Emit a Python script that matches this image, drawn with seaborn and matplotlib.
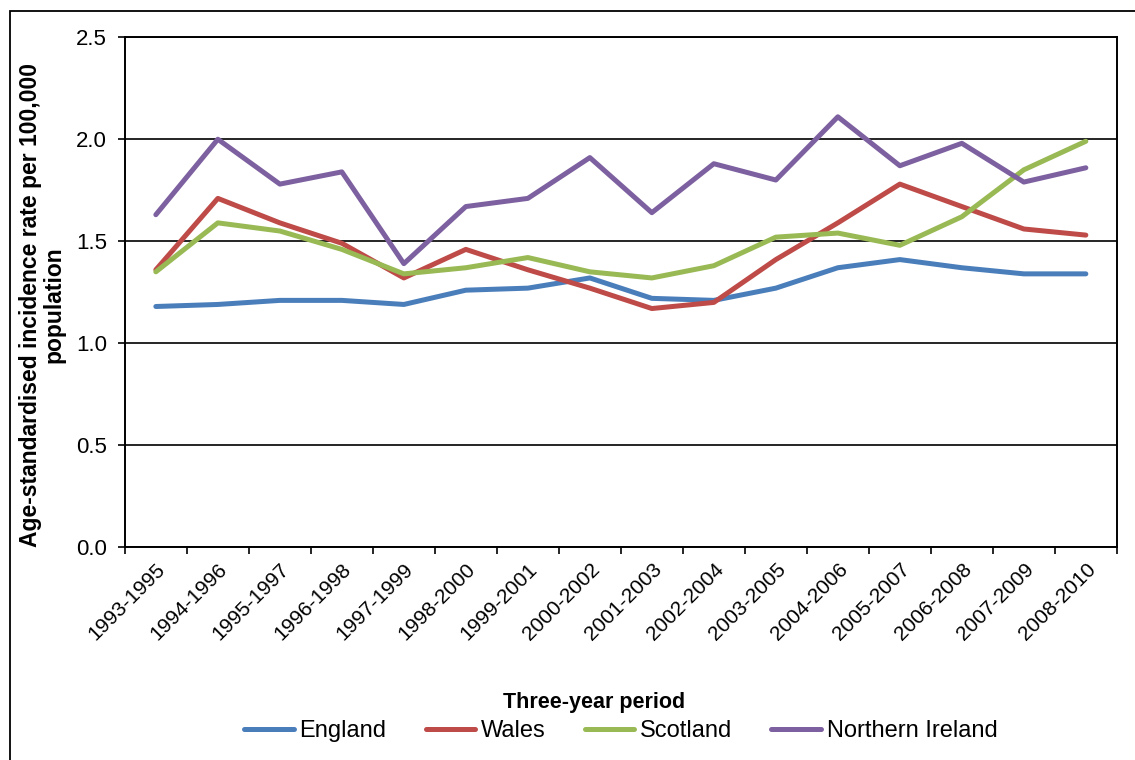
import numpy as np
import pandas as pd
import matplotlib
matplotlib.use("Agg")
import matplotlib.pyplot as plt
from matplotlib.patches import Rectangle
from matplotlib.ticker import MultipleLocator, FixedLocator
import seaborn as sns

periods = ["1993-1995", "1994-1996", "1995-1997", "1996-1998", "1997-1999",
           "1998-2000", "1999-2001", "2000-2002", "2001-2003", "2002-2004",
           "2003-2005", "2004-2006", "2005-2007", "2006-2008", "2007-2009",
           "2008-2010"]

england = [1.18, 1.19, 1.21, 1.21, 1.19, 1.26, 1.27, 1.32, 1.22, 1.21,
           1.27, 1.37, 1.41, 1.37, 1.34, 1.34]
wales = [1.36, 1.71, 1.59, 1.49, 1.32, 1.46, 1.36, 1.27, 1.17, 1.20,
         1.41, 1.59, 1.78, 1.67, 1.56, 1.53]
scotland = [1.35, 1.59, 1.55, 1.46, 1.34, 1.37, 1.42, 1.35, 1.32, 1.38,
            1.52, 1.54, 1.48, 1.62, 1.85, 1.99]
n_ireland = [1.63, 2.00, 1.78, 1.84, 1.39, 1.67, 1.71, 1.91, 1.64, 1.88,
             1.80, 2.11, 1.87, 1.98, 1.79, 1.86]

countries = ["England", "Wales", "Scotland", "Northern Ireland"]
colors = ["#4A7EBB", "#BE4B48", "#98B954", "#7D60A0"]

df = pd.DataFrame({
    "pos": list(range(len(periods))) * 4,
    "rate": england + wales + scotland + n_ireland,
    "country": [c for c in countries for _ in periods],
})

sns.set_style("white")
plt.rcParams["font.family"] = ["Liberation Sans", "DejaVu Sans"]
plt.rcParams["text.color"] = "black"
plt.rcParams["axes.labelcolor"] = "black"
plt.rcParams["xtick.color"] = "black"
plt.rcParams["ytick.color"] = "black"

fig = plt.figure(figsize=(11.35, 7.6), dpi=100)
ax = fig.add_axes([0.110, 0.280, 0.874, 0.671])

sns.lineplot(data=df, x="pos", y="rate", hue="country", hue_order=countries,
             palette=colors, linewidth=3.6, ax=ax, legend=True)

ax.set_xlim(-0.5, len(periods) - 0.5)
ax.set_ylim(0, 2.5)
ax.yaxis.set_major_locator(MultipleLocator(0.5))
ax.yaxis.set_major_formatter(matplotlib.ticker.FormatStrFormatter("%.1f"))
ax.grid(axis="y", color="black", linewidth=1.2)
ax.set_axisbelow(True)

ax.set_xticks(range(len(periods)))
ax.set_xticklabels(periods, rotation=45, ha="right", rotation_mode="anchor",
                   fontsize=15)
ax.xaxis.set_minor_locator(FixedLocator(np.arange(-0.5, len(periods), 1.0)))
ax.tick_params(axis="x", which="major", length=0, pad=9)
ax.tick_params(axis="x", which="minor", length=5, width=1.2, direction="out",
               color="black", bottom=True)
ax.tick_params(axis="y", length=5, width=1.2, direction="out", color="black",
               left=True, labelsize=16, pad=8)

for s in ax.spines.values():
    s.set_color("black")
    s.set_linewidth(1.4)

ax.set_xlabel("")
ax.set_ylabel("Age-standardised incidence rate per 100,000\npopulation",
              fontsize=16.5, fontweight="bold", linespacing=1.0)
ax.yaxis.set_label_coords(-0.060, 0.475)

fig.text(0.523, 0.076, "Three-year period", ha="center", va="center",
         fontsize=15.5, fontweight="bold")

handles, labels = ax.get_legend_handles_labels()
ax.legend(handles, labels, loc="center", bbox_to_anchor=(0.547, 0.038),
          bbox_transform=fig.transFigure, ncol=4, frameon=False,
          fontsize=17, handlelength=2.1, handletextpad=0.25,
          columnspacing=1.65)

fig.add_artist(Rectangle((10 / 1135, -0.1), 1.2, 0.1 + 749 / 760,
                         transform=fig.transFigure, fill=False,
                         edgecolor="black", linewidth=1.3, clip_on=False))

fig.savefig("out.png", dpi=100)
